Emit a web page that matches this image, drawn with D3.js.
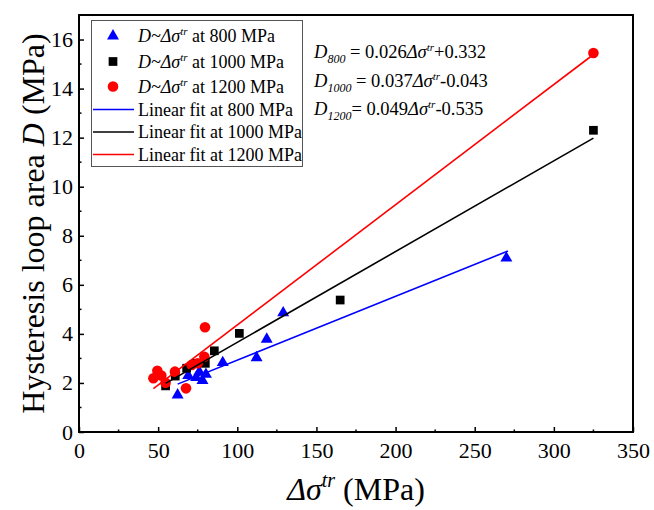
<!DOCTYPE html>
<html>
<head>
<meta charset="utf-8">
<script src="https://cdn.jsdelivr.net/npm/d3@7"></script>
<style>
  body { margin: 0; background: #fff; }
  svg text { font-family: "Liberation Serif", "Times New Roman", serif; fill: #000; }
</style>
</head>
<body>
<div id="chart"></div>
<script>
// --- data ---
const pts800 = [[62.3, 1.51], [69, 2.3], [74, 2.22], [78, 2.1], [80.2, 2.35], [76, 2.45],
                [90.8, 2.83], [112.2, 3.03], [118.6, 3.78], [129, 4.86], [270, 7.09]];
const pts1000 = [[54.7, 1.88], [60.8, 2.28], [68, 2.6], [73.9, 2.8], [79.8, 2.8],
                 [85.5, 3.31], [101.3, 4.02], [165, 5.38], [325, 12.3]];
const pts1200 = [[47, 2.19], [49.5, 2.5], [52, 2.3], [54.7, 2.01], [60.6, 2.46], [67.6, 1.78],
                 [71.2, 2.73], [75, 2.8], [79.2, 3.07], [79.6, 4.27], [325, 15.45]];

// fits: slope, intercept, x range
const fit800 = [0.026, 0.332, 62.3, 271];
const fit1000 = [0.037, -0.043, 54.7, 325];
const fit1200 = [0.049, -0.535, 47, 325];

const xTicks = [0, 50, 100, 150, 200, 250, 300, 350];
const yTicks = [0, 2, 4, 6, 8, 10, 12, 14, 16];

const W = 654, H = 510;
const pl = 79, pr = 633, pt = 15, pb = 432;

const svg = d3.select('#chart').append('svg')
    .attr('width', W).attr('height', H);

const x = d3.scaleLinear().domain([0, 350]).range([pl, pr]);
const y = d3.scaleLinear().domain([0, 17]).range([pb, pt]);

// frame
svg.append('rect')
    .attr('x', pl).attr('y', pt)
    .attr('width', pr - pl).attr('height', pb - pt)
    .attr('fill', 'none').attr('stroke', '#000').attr('stroke-width', 2);

// axes (ticks pointing inward)
const xAxis = d3.axisBottom(x).tickValues(xTicks).tickSize(-5).tickPadding(10);
const yAxis = d3.axisLeft(y).tickValues(yTicks).tickSize(-5).tickPadding(6);

const gx = svg.append('g').attr('transform', `translate(0,${pb})`).call(xAxis);
const gy = svg.append('g').attr('transform', `translate(${pl},0)`).call(yAxis);
[gx, gy].forEach(g => {
    g.select('.domain').remove();
    g.selectAll('line').attr('stroke', '#000').attr('stroke-width', 1.5);
    g.selectAll('text').style('font-size', '22px').attr('fill', '#000')
        .style('font-family', '"Liberation Serif", serif');
});

// minor ticks
svg.append('g').selectAll('line')
    .data(d3.range(25, 350, 50))
    .join('line')
    .attr('x1', d => x(d)).attr('x2', d => x(d))
    .attr('y1', pb).attr('y2', pb - 2.5)
    .attr('stroke', '#000').attr('stroke-width', 1.5);
svg.append('g').selectAll('line')
    .data(d3.range(1, 17, 2))
    .join('line')
    .attr('y1', d => y(d)).attr('y2', d => y(d))
    .attr('x1', pl).attr('x2', pl + 2.5)
    .attr('stroke', '#000').attr('stroke-width', 1.5);

// axis titles
const xt = svg.append('text')
    .attr('x', (pl + pr) / 2).attr('y', 500)
    .attr('text-anchor', 'middle').style('font-size', '32px');
xt.append('tspan').style('font-style', 'italic').text('Δσ');
xt.append('tspan').style('font-style', 'italic').style('font-size', '20px')
    .attr('dy', -13).text('tr');
xt.append('tspan').attr('dy', 13).text(' (MPa)');

const yt = svg.append('text')
    .attr('transform', `translate(44,${(pt + pb) / 2}) rotate(-90)`)
    .attr('text-anchor', 'middle').style('font-size', '32px');
yt.append('tspan').text('Hysteresis loop area ');
yt.append('tspan').style('font-style', 'italic').text('D');
yt.append('tspan').text(' (MPa)');

// markers
const tri = d3.symbol().type(d3.symbolTriangle).size(62);
const sq = d3.symbol().type(d3.symbolSquare).size(76);

svg.append('g').selectAll('path')
    .data(pts800).join('path')
    .attr('d', tri)
    .attr('transform', d => `translate(${x(d[0])},${y(d[1])})`)
    .attr('fill', '#0000ff');
svg.append('g').selectAll('path')
    .data(pts1000).join('path')
    .attr('d', sq)
    .attr('transform', d => `translate(${x(d[0])},${y(d[1])})`)
    .attr('fill', '#000');
svg.append('g').selectAll('circle')
    .data(pts1200).join('circle')
    .attr('cx', d => x(d[0])).attr('cy', d => y(d[1])).attr('r', 5.3)
    .attr('fill', '#ff0000');

// fit lines
const fits = [[fit800, '#0000ff'], [fit1000, '#000'], [fit1200, '#ff0000']];
fits.forEach(([f, c]) => {
    const [k, b, x0, x1] = f;
    svg.append('line')
        .attr('x1', x(x0)).attr('y1', y(k * x0 + b))
        .attr('x2', x(x1)).attr('y2', y(k * x1 + b))
        .attr('stroke', c).attr('stroke-width', 1.6);
});

// legend
const lg = svg.append('g');
lg.append('rect')
    .attr('x', 91.5).attr('y', 20.5).attr('width', 211).attr('height', 146)
    .attr('fill', '#fff').attr('stroke', '#555').attr('stroke-width', 1);

const legendRows = [
    { kind: 'tri', color: '#0000ff', p: '800', cy: 36 },
    { kind: 'sq', color: '#000', p: '1000', cy: 61.5 },
    { kind: 'dot', color: '#ff0000', p: '1200', cy: 86.5 },
    { kind: 'line', color: '#0000ff', p: '800', cy: 109.5 },
    { kind: 'line', color: '#000', p: '1000', cy: 132 },
    { kind: 'line', color: '#ff0000', p: '1200', cy: 154.5 }
];
legendRows.forEach(r => {
    if (r.kind === 'tri') {
        lg.append('path').attr('d', tri).attr('transform', `translate(113,${r.cy})`).attr('fill', r.color);
    } else if (r.kind === 'sq') {
        lg.append('path').attr('d', sq).attr('transform', `translate(113,${r.cy})`).attr('fill', r.color);
    } else if (r.kind === 'dot') {
        lg.append('circle').attr('cx', 113).attr('cy', r.cy).attr('r', 5.3).attr('fill', r.color);
    } else {
        lg.append('line').attr('x1', 93).attr('x2', 134).attr('y1', r.cy).attr('y2', r.cy)
            .attr('stroke', r.color).attr('stroke-width', 1.6);
    }
    const t = lg.append('text').attr('x', 138).attr('y', r.cy + 6).style('font-size', '18px');
    if (r.kind === 'line') {
        t.text(`Linear fit at ${r.p} MPa`);
    } else {
        t.append('tspan').style('font-style', 'italic').text('D~Δσ');
        t.append('tspan').style('font-style', 'italic').style('font-size', '11px')
            .attr('dy', -7).text('tr');
        t.append('tspan').attr('dy', 7).text(` at ${r.p} MPa`);
    }
});

// fit equations
const eqs = [
    { sub: '800', eq: ' = ', rest: ['0.026', '+0.332'], yb: 58 },
    { sub: '1000', eq: ' = ', rest: ['0.037', '-0.043'], yb: 86.5 },
    { sub: '1200', eq: '= ', rest: ['0.049', '-0.535'], yb: 115 }
];
eqs.forEach(e => {
    const t = svg.append('text').attr('x', 314).attr('y', e.yb).style('font-size', '18.5px');
    t.append('tspan').style('font-style', 'italic').text('D');
    t.append('tspan').style('font-style', 'italic').style('font-size', '12px')
        .attr('dy', 5).text(e.sub);
    t.append('tspan').attr('dy', -5).text(e.eq + e.rest[0]);
    t.append('tspan').style('font-style', 'italic').text('Δσ');
    t.append('tspan').style('font-style', 'italic').style('font-size', '11px')
        .attr('dy', -7).text('tr');
    t.append('tspan').attr('dy', 7).text(e.rest[1]);
});
</script>
</body>
</html>
